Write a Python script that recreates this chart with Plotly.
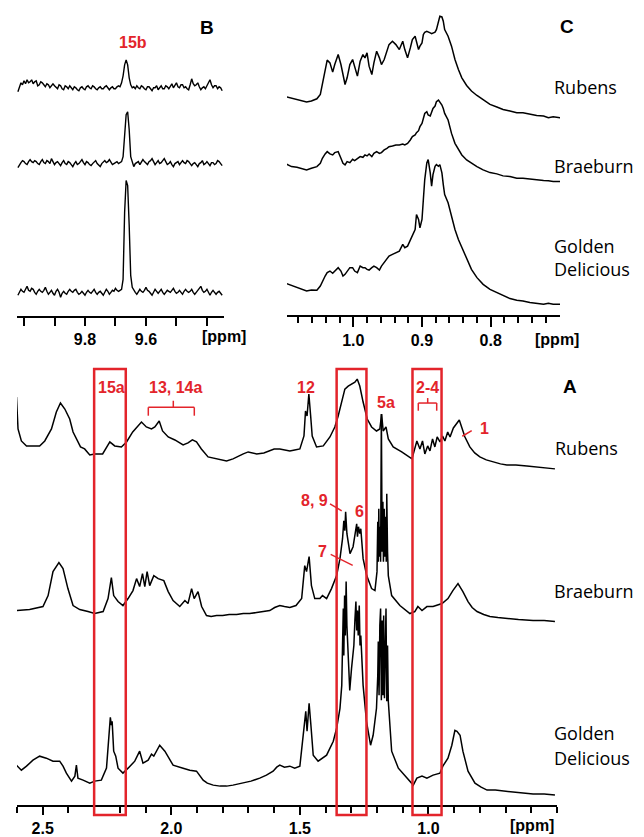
import plotly.graph_objects as go

# ---------------- data ----------------
samples = ["Rubens", "Braeburn", "Golden Delicious"]

# Panel B (aldehyde region, 15b)
b_ppm = [10.02, 10.015, 10.01, 10.005, 10.00, 9.995, 9.99, 9.985, 9.98, 9.975, 9.97, 9.965, 9.96, 9.955,
         9.95, 9.945, 9.94, 9.935, 9.93, 9.925, 9.92, 9.915, 9.91, 9.905, 9.90, 9.895, 9.89, 9.885, 9.88,
         9.875, 9.87, 9.865, 9.86, 9.855, 9.85, 9.845, 9.84, 9.835, 9.83, 9.825, 9.82, 9.815, 9.81, 9.805,
         9.80, 9.795, 9.79, 9.785, 9.78, 9.775, 9.77, 9.765, 9.76, 9.755, 9.75, 9.745, 9.74, 9.735, 9.73,
         9.725, 9.72, 9.715, 9.71, 9.705, 9.70, 9.695, 9.69, 9.685,
         9.68, 9.675, 9.67, 9.665, 9.66, 9.655, 9.65,
         9.645, 9.64, 9.635, 9.63, 9.625, 9.62, 9.615, 9.61, 9.605, 9.60, 9.595, 9.59, 9.585, 9.58, 9.575,
         9.57, 9.565, 9.56, 9.555, 9.55, 9.545, 9.54, 9.535, 9.53, 9.525, 9.52, 9.515, 9.51, 9.505, 9.50,
         9.495, 9.49, 9.485, 9.48, 9.475, 9.47, 9.465, 9.46, 9.455, 9.45, 9.445, 9.44, 9.435, 9.43, 9.425,
         9.42, 9.415, 9.41, 9.405, 9.40, 9.395, 9.39, 9.385, 9.38, 9.375, 9.37, 9.365, 9.36, 9.355, 9.35]
b_rubens = [-4, 2, 5, 3, 7, 4, 8, 5, 6, 8, 4, 6, 7, 2, 3, 6, 5, 3, 1, 4, 3, 0, 2, 4, 2, 0, -1, 3, 2, -1,
            -2, 2, 1, -1, 2, 0, -2, 1, 0, -2, -3, 0, 1, -1, -2, 1, 2, 0, -1, 2, 1, -1, -2, 0, 1, -1, -1, 1,
            2, 0, -2, 0, 1, -1, -1, 1, 2, 1,
            5, 12, 23, 28, 23, 10, 3,
            0, 1, -1, 2, 0, -1, 2, 1, -1, -2, 1, 1, -1, -3, 0, 0, 2, -2, 0, 2, -1, -1, 2, 1, -1, 2, 4, 0, 2,
            5, 1, 0, 3, 3, 0, 1, -1, -2, 3, 9, 4, 2, 3, 5, 1, -2, 0, 1, -1, 2, 4, 8, 3, 0, 2, 2, -1, 1, 0, -3]
b_braeburn = [-4, -1, 1, 3, 2, 0, -1, 2, 4, 2, 1, 3, 2, 0, -1, 2, 4, 1, 0, 3, 2, 0, 5, 2, -1, 1, 2, 0, -2,
              1, 3, 0, -1, 2, 1, -1, -3, 0, 2, -1, 0, 2, 4, 1, -1, 2, 1, -1, -2, 0, 2, 3, 0, -2, -3, 0, 2, 3,
              1, 2, 4, 1, -1, 0, 1, 2, 0, 1,
              2, 7, 31, 49, 52, 34, 7,
              1, -3, 0, 1, 2, -1, 1, 4, 2, 0, -1, 2, 3, 5, 2, -1, 1, 3, 0, 1, 3, 5, 2, -1, 0, 2, -1, -3, 0,
              1, 2, -1, 1, 3, 1, 0, 3, 2, 0, -2, 0, 1, -1, -3, 0, 1, 3, -1, 0, 2, 0, -2, 1, 1, -1, 0, 3, 2,
              0, -2]
b_golden = [-3, 0, 3, 1, 0, 3, 6, 2, 1, 4, 3, 0, -2, 1, 3, 1, 0, 2, 5, 1, -2, 0, 2, -1, -3, 1, 3, 0, -5, -1,
            1, -1, -2, 1, 3, 1, 0, 2, 3, 0, -2, -1, 1, -1, -3, 0, 2, 0, -1, 1, 3, 0, -2, 0, 1, -1, -3, 0, 3,
            1, -2, 0, 2, 1, 4, 2, 1, 2,
            3, 13, 80, 112, 107, 67, 17,
            5, 2, 0, -2, 1, 3, 1, 0, 2, 5, 2, 1, -1, -3, 0, 3, 1, -1, 1, 3, 0, -2, 0, 2, 1, 0, 2, 4, 1, -1,
            0, 2, 0, -2, 1, 3, 1, 0, 1, 3, 0, -2, 0, 2, 4, 6, 2, 0, 1, 3, 0, -3, 0, 2, 0, -2, 0, 1, -1, -3]

# Panel C (methyl region)
c_ppm = [1.098, 1.090, 1.082, 1.075, 1.068, 1.061, 1.053, 1.048, 1.045, 1.041, 1.038, 1.034, 1.030, 1.027,
         1.022, 1.018, 1.015, 1.012, 1.009, 1.005, 1.001, 0.998, 0.994, 0.990, 0.986, 0.983, 0.980, 0.977,
         0.973, 0.970, 0.966, 0.962, 0.959, 0.955, 0.951, 0.948, 0.943, 0.938, 0.933, 0.928, 0.925, 0.921,
         0.917, 0.914, 0.910, 0.908, 0.905, 0.903, 0.900, 0.898, 0.896, 0.893, 0.891, 0.888, 0.886, 0.884,
         0.881, 0.879, 0.876, 0.874, 0.871, 0.869, 0.867, 0.862, 0.857, 0.852, 0.847, 0.842, 0.835, 0.828,
         0.820, 0.811, 0.801, 0.791, 0.782, 0.772, 0.762, 0.753, 0.743, 0.733, 0.723, 0.716, 0.709, 0.699]
c_rubens = [21, 19.7, 18.3, 16.7, 15.7, 16.7, 19, 23.3, 33.3, 48.3, 57.7, 55, 45.7, 53.3, 63.3, 53.3, 43.3,
            33.3, 40, 53.3, 58.3, 50, 41.7, 56.7, 63.3, 60, 65, 51.7, 43.3, 55, 66.7, 60, 53.3, 58.3, 68.3,
            73.3, 76.7, 73.3, 68.3, 76.7, 68.3, 60,
            70, 78.3, 81.7, 75, 68.3, 71.7, 75, 83.3, 85.7, 86.7, 85.7, 85, 84.3, 85, 85.7, 88.3, 95, 101.7,
            101, 96.7, 88.3, 81.7,
            71.7, 58.3, 48.3, 40, 32.3, 26.7, 22.3, 18.3, 13.3, 10.7, 8.3, 6.7, 5, 5, 3.3, 2.3, 1.7, 0, 1, 0]
c_braeburn = [17.7, 15, 14.3, 13.3, 11.7, 13.3, 15, 18.3, 23.3, 27.7, 30, 27.7, 26.7, 29, 30, 23.3, 18.3,
              16.7, 20, 19, 22.3, 21, 23.3, 25, 24.3, 26.7, 25.7, 27.7, 25, 28.3, 30, 28.3, 29, 31.7, 33.3,
              35, 35.7, 36.7, 36.7, 37.7, 36.7, 38.3,
              41.7, 45, 46.7, 49, 51, 55, 58.3, 63.3, 68.3, 70, 66.7, 65.7, 70, 73.3, 75.7, 80, 81.7, 80,
              76.7, 73.3, 68.3, 61.7,
              48.3, 38.3, 31.7, 26.7, 21.7, 18.3, 15, 11.7, 9, 7.7, 5.7, 5, 3.3, 3.3, 2.3, 1.7, 1, 0.7, 0, 0]
c_golden = [21, 19, 16.7, 15, 13.3, 14.3, 14, 18.3, 23.3, 28.3, 31.7, 33.3, 31, 33.3, 36.7, 33.3, 28.3, 30,
            33.3, 36.7, 36.7, 33.3, 31.7, 38.3, 36.7, 36.7, 35, 34.3, 36.7, 38.3, 36.7, 34.3, 38.3, 41.7, 45,
            48.3, 50, 51.7, 53.3, 60, 56.7, 58.3,
            65, 70, 75, 90, 85, 76.7, 85, 105, 125, 141.7, 145, 131.7, 118.3, 130, 138.3, 140, 138.3, 140,
            131.7, 120, 110, 101.7,
            88.3, 75, 65, 56.7, 45, 35, 26.7, 20, 15, 11.7, 8.3, 5.7, 4, 3.3, 1.7, 1, 0, 1, 0, 0]

# Panel A (aliphatic region)
a_rubens_ppm = [2.602, 2.596, 2.583, 2.563, 2.538, 2.512, 2.492, 2.466, 2.447, 2.431, 2.414, 2.395, 2.382,
                2.369, 2.353, 2.337, 2.317, 2.298, 2.267, 2.239, 2.220, 2.194, 2.174, 2.150, 2.130, 2.116,
                2.097, 2.077, 2.064, 2.047, 2.034, 2.012, 1.986, 1.954, 1.935, 1.918, 1.902,
                1.883, 1.857, 1.824, 1.800, 1.785, 1.760, 1.746, 1.720, 1.701, 1.668, 1.640, 1.617, 1.600,
                1.578, 1.560, 1.539, 1.520, 1.500,
                1.484, 1.478, 1.472, 1.465, 1.458, 1.452, 1.435, 1.409, 1.383, 1.364, 1.351, 1.338, 1.325,
                1.312, 1.299, 1.286, 1.277, 1.267, 1.254, 1.238, 1.221, 1.202, 1.189, 1.182, 1.176, 1.165,
                1.156, 1.137, 1.104, 1.072, 1.064, 1.045, 1.033, 1.023, 1.014, 1.003, 0.994, 0.984, 0.975,
                0.966, 0.955, 0.945, 0.936, 0.925, 0.916, 0.903, 0.890, 0.880, 0.858,
                0.839, 0.820, 0.800, 0.775, 0.749, 0.720, 0.695, 0.660, 0.617, 0.570, 0.540, 0.508]
a_rubens = [72, 40, 28, 23, 23, 23, 28, 40, 57, 66, 60, 50, 37, 30, 22, 20, 14, 15, 15, 27, 23, 22, 27, 37,
            43, 47, 42, 40, 42, 48, 38, 32, 29, 24, 26, 29, 27,
            20, 12, 10, 9, 8, 10, 12, 15, 17, 15, 16, 18, 20, 20, 19, 18, 19, 20,
            33, 58, 53, 75, 53, 33, 22, 23, 32, 42, 53, 68, 80, 83, 85, 87, 90, 83, 67, 50, 42, 38, 40, 55,
            38, 42, 30, 22, 17, 11, 10, 28, 20, 28, 15, 23, 18, 30, 22, 32, 27, 33, 28, 37, 32, 41, 45, 49,
            32,
            22, 16, 12, 9, 7, 5, 4, 4, 3, 2, 1, 0]

a_braeburn_ppm = [2.602, 2.551, 2.499, 2.479, 2.460, 2.437, 2.421, 2.402, 2.382, 2.356, 2.324, 2.298, 2.265,
                  2.246, 2.233, 2.224, 2.207, 2.188, 2.168, 2.149, 2.135, 2.123, 2.112, 2.103, 2.094, 2.084,
                  2.068, 2.051, 2.029, 2.012, 1.993, 1.967, 1.947, 1.935, 1.921, 1.911, 1.896, 1.882,
                  1.863, 1.845, 1.824, 1.800, 1.775, 1.746, 1.720, 1.695, 1.668, 1.645, 1.617, 1.598, 1.578,
                  1.560, 1.539, 1.515, 1.493,
                  1.481, 1.474, 1.464, 1.455, 1.442, 1.422, 1.412, 1.396, 1.377, 1.357, 1.344, 1.334, 1.329,
                  1.325, 1.322, 1.317, 1.311, 1.305, 1.293, 1.288, 1.279, 1.276, 1.272, 1.267, 1.263, 1.254,
                  1.240, 1.221, 1.208, 1.200, 1.197, 1.195, 1.193, 1.191, 1.188, 1.186, 1.183, 1.180, 1.177,
                  1.175, 1.172, 1.169, 1.166, 1.164, 1.162, 1.159, 1.156, 1.143, 1.111, 1.072, 1.053, 1.041,
                  1.025, 1.006, 0.982, 0.947, 0.924, 0.905, 0.885, 0.866,
                  0.846, 0.830, 0.811, 0.785, 0.761, 0.730, 0.695, 0.650, 0.593, 0.550, 0.508]
a_braeburn = [11, 12, 15, 26, 50, 59, 53, 33, 16, 12, 10, 8, 10, 23, 44, 26, 20, 16, 23, 31, 43, 35, 48, 35,
              50, 36, 46, 43, 41, 30, 21, 15, 21, 18, 33, 23, 30, 15,
              6, 5, 6, 6, 7, 7, 8, 8, 9, 10, 11, 14, 16, 15, 14, 16, 23,
              56, 50, 65, 36, 23, 23, 26, 23, 33, 46, 63, 83, 101, 91, 110, 88, 78, 68, 75, 83, 98, 85, 95, 88,
              93, 63, 46, 33, 31, 50, 100, 60, 113, 65, 95, 60, 208, 70, 120, 60, 113, 65, 105, 60, 128, 70,
              46, 26, 16, 8, 10, 15, 11, 15, 15, 18, 23, 31, 38, 30,
              20, 14, 10, 7, 5, 4, 3, 2, 1, 1, 0]

a_golden_ppm = [2.602, 2.583, 2.563, 2.538, 2.512, 2.486, 2.460, 2.434, 2.421, 2.408, 2.388, 2.375, 2.369,
                2.363, 2.343, 2.317, 2.298, 2.272, 2.252, 2.242, 2.237, 2.233, 2.230, 2.224, 2.216, 2.207,
                2.188, 2.168, 2.142, 2.123, 2.110, 2.090, 2.077, 2.068, 2.045, 2.025, 1.993, 1.954, 1.928,
                1.902,
                1.876, 1.860, 1.837, 1.810, 1.785, 1.760, 1.721, 1.690, 1.656, 1.630, 1.604, 1.590, 1.578,
                1.560, 1.539, 1.520, 1.500,
                1.484, 1.477, 1.472, 1.464, 1.457, 1.448, 1.429, 1.396, 1.370, 1.357, 1.344, 1.337, 1.334,
                1.331, 1.329, 1.326, 1.323, 1.320, 1.317, 1.314, 1.310, 1.306, 1.299, 1.294, 1.290, 1.286,
                1.282, 1.279, 1.276, 1.273, 1.269, 1.266, 1.263, 1.254, 1.241, 1.225, 1.215, 1.202, 1.197,
                1.195, 1.192, 1.189, 1.186, 1.183, 1.180, 1.177, 1.174, 1.171, 1.168, 1.165, 1.162, 1.159,
                1.156, 1.143, 1.117, 1.085, 1.059, 1.045, 1.025, 1.006, 0.982, 0.955, 0.944, 0.924, 0.909,
                0.897, 0.889, 0.877, 0.866,
                0.846, 0.830, 0.819, 0.795, 0.772, 0.740, 0.695, 0.650, 0.593, 0.550, 0.508]
a_golden = [30, 25, 29, 35, 39, 37, 34, 34, 29, 22, 14, 19, 30, 17, 15, 12, 14, 15, 27, 60, 78, 70, 74, 44, 39,
            27, 22, 27, 34, 44, 32, 35, 41, 39, 50, 44, 30, 27, 25, 24,
            15, 12, 10, 9, 9, 10, 12, 14, 17, 20, 24, 28, 30, 28, 29, 27, 29,
            64, 84, 64, 92, 70, 40, 34, 40, 54, 67, 87, 110, 150, 187, 140, 200, 160, 214, 170, 154, 120, 105,
            127, 140, 150, 175, 194, 165, 185, 160, 190, 150, 160, 110, 74, 50, 60, 87, 120, 154, 100, 170,
            187, 95, 175, 100, 180, 97, 165, 187, 94, 150, 94, 44, 27, 17, 10, 17, 19, 17, 20, 22, 29, 37, 50,
            65, 64, 60, 44,
            24, 17, 12, 8, 5, 5, 4, 3, 1, 1, 0]

# vertical stacking of the three spectra in each panel (a.u.)
a_offsets = [337, 184, 10]
b_offsets = [229, 153, 24]
c_offsets = [198, 134, 11]

# highlighted regions in panel A (ppm)
boxes = [(2.300, 2.177), (1.357, 1.241), (1.062, 0.949)]

a_tickvals = [2.5, 2.0, 1.5, 1.0]
a_ticktext = ["2.5", "2.0", "1.5", "1.0"]
a_minor = [2.6, 2.4, 2.3, 2.2, 2.1, 1.9, 1.8, 1.7, 1.6, 1.4, 1.3, 1.2, 1.1, 0.9, 0.8, 0.7, 0.6, 0.5]
b_tickvals = [9.8, 9.6]
b_ticktext = ["9.8", "9.6"]
b_minor = [10.0, 9.9, 9.7, 9.5, 9.4]
c_tickvals = [1.0, 0.9, 0.8]
c_ticktext = ["1.0", "0.9", "0.8"]
c_minor = [1.08, 1.06, 1.04, 1.02, 0.98, 0.96, 0.94, 0.92, 0.88, 0.86, 0.84, 0.82, 0.78, 0.76, 0.74, 0.72]

# ---------------- figure ----------------
W, H = 644, 837
RED = "#e3242b"


def px(x):
    return x / W


def py(y):
    return 1 - y / H


fig = go.Figure()
line = dict(color="black", width=1.5)

a_sets = [(a_rubens_ppm, a_rubens), (a_braeburn_ppm, a_braeburn), (a_golden_ppm, a_golden)]
for (pp, vals), off, name in zip(a_sets, a_offsets, samples):
    fig.add_trace(go.Scatter(x=pp, y=[off + v for v in vals], mode="lines", line=line, name=name,
                             xaxis="x", yaxis="y", hoverinfo="skip", showlegend=False))
for vals, off, name in zip([b_rubens, b_braeburn, b_golden], b_offsets, samples):
    fig.add_trace(go.Scatter(x=b_ppm, y=[off + v for v in vals], mode="lines",
                             line=dict(color="black", width=1.4), name=name,
                             xaxis="x2", yaxis="y2", hoverinfo="skip", showlegend=False))
for vals, off, name in zip([c_rubens, c_braeburn, c_golden], c_offsets, samples):
    fig.add_trace(go.Scatter(x=c_ppm, y=[off + v for v in vals], mode="lines", line=line, name=name,
                             xaxis="x3", yaxis="y3", hoverinfo="skip", showlegend=False))

tickfont = dict(family="Liberation Sans, Arial, sans-serif", size=16, color="black", weight="bold")


def xax(domain, rng, anchor, tv, tt, minor, major_len, minor_len):
    return dict(domain=domain, range=rng, anchor=anchor, showline=True, linecolor="black", linewidth=1.5,
                ticks="outside", tickvals=tv, ticktext=tt, ticklen=major_len, tickwidth=1.5,
                tickcolor="black", tickfont=tickfont, showgrid=False, zeroline=False, fixedrange=True,
                minor=dict(tickvals=minor, ticks="outside", ticklen=minor_len, tickwidth=1.5,
                           tickcolor="black", showgrid=False))


def yax(domain, rng):
    return dict(domain=domain, range=rng, visible=False, fixedrange=True, showgrid=False, zeroline=False)


fig.update_layout(
    width=W, height=H, margin=dict(l=0, r=0, t=0, b=0),
    paper_bgcolor="white", plot_bgcolor="white",
    xaxis=xax([px(17), px(557)], [2.6, 0.5], "y", a_tickvals, a_ticktext, a_minor, 8, 6),
    yaxis=yax([py(807), py(365)], [0, 442]),
    xaxis2=xax([px(17), px(224)], [10.023, 9.344], "y2", b_tickvals, b_ticktext, b_minor, 8, 8),
    yaxis2=yax([py(317), py(40)], [0, 277]),
    xaxis3=xax([px(287), px(560)], [1.0965, 0.6991], "y3", c_tickvals, c_ticktext, c_minor, 10, 6),
    yaxis3=yax([py(316), py(5)], [0, 311]),
)

shapes = []
for x0, x1 in boxes:
    shapes.append(dict(type="rect", xref="x", yref="paper", x0=x0, x1=x1, y0=py(817), y1=py(370),
                       line=dict(color=RED, width=2.5), fillcolor="rgba(0,0,0,0)", layer="above"))


def seg(x0, y0, x1, y1, w=1.5):
    shapes.append(dict(type="line", xref="paper", yref="paper", x0=px(x0), y0=py(y0), x1=px(x1), y1=py(y1),
                       line=dict(color=RED, width=w)))


# bracket 13, 14a
seg(148.3, 408.3, 194.3, 408.3)
seg(148.3, 408.3, 148.3, 416.7)
seg(194.3, 408.3, 194.3, 416.7)
seg(173.3, 408.3, 173.3, 401.7)
# bracket 2-4
seg(418.3, 404, 436.7, 404)
seg(418.3, 404, 418.3, 411.7)
seg(436.7, 404, 436.7, 411.7)
seg(427.7, 404, 427.7, 399)
# leader lines
seg(471.7, 431.7, 462.3, 437.3)
seg(330, 505, 341.7, 512)
seg(330.7, 555.7, 352.7, 566.7)
fig.update_layout(shapes=shapes)

ann = []


def text(x, y, s, color="black", size=16, family="Liberation Sans, Arial, sans-serif", bold=True,
         xanchor="center"):
    ann.append(dict(x=px(x), y=py(y), xref="paper", yref="paper", text=s, showarrow=False,
                    xanchor=xanchor, yanchor="middle",
                    font=dict(family=family, size=size, color=color, weight="bold" if bold else "normal")))


text(207, 28, "B", size=19)
text(567, 27, "C", size=19)
text(570, 387, "A", size=19)
text(133, 43, "15b", color=RED)
text(111, 388, "15a", color=RED)
text(175.5, 388, "13, 14a", color=RED)
text(306, 388, "12", color=RED)
text(386, 403, "5a", color=RED)
text(427.5, 388, "2-4", color=RED)
text(484, 430, "1", color=RED)
text(314, 502, "8, 9", color=RED)
text(359, 513, "6", color=RED)
text(322.5, 553, "7", color=RED)
text(224, 337, "[ppm]")
text(557, 340, "[ppm]")
text(532, 827, "[ppm]")

lab = dict(family="Open Sans, sans-serif", size=18, bold=False, xanchor="left")
text(552, 87, "Rubens", **lab)
text(552, 166, "Braeburn", **lab)
text(552, 247, "Golden", **lab)
text(552, 270, "Delicious", **lab)
text(553, 449, "Rubens", **lab)
text(552, 592, "Braeburn", **lab)
text(552, 735, "Golden", **lab)
text(552, 760, "Delicious", **lab)
fig.update_layout(annotations=ann)

fig.write_html("out.html", config={"displayModeBar": False},
               post_script="document.body.style.margin='0';document.body.style.overflow='hidden';")
